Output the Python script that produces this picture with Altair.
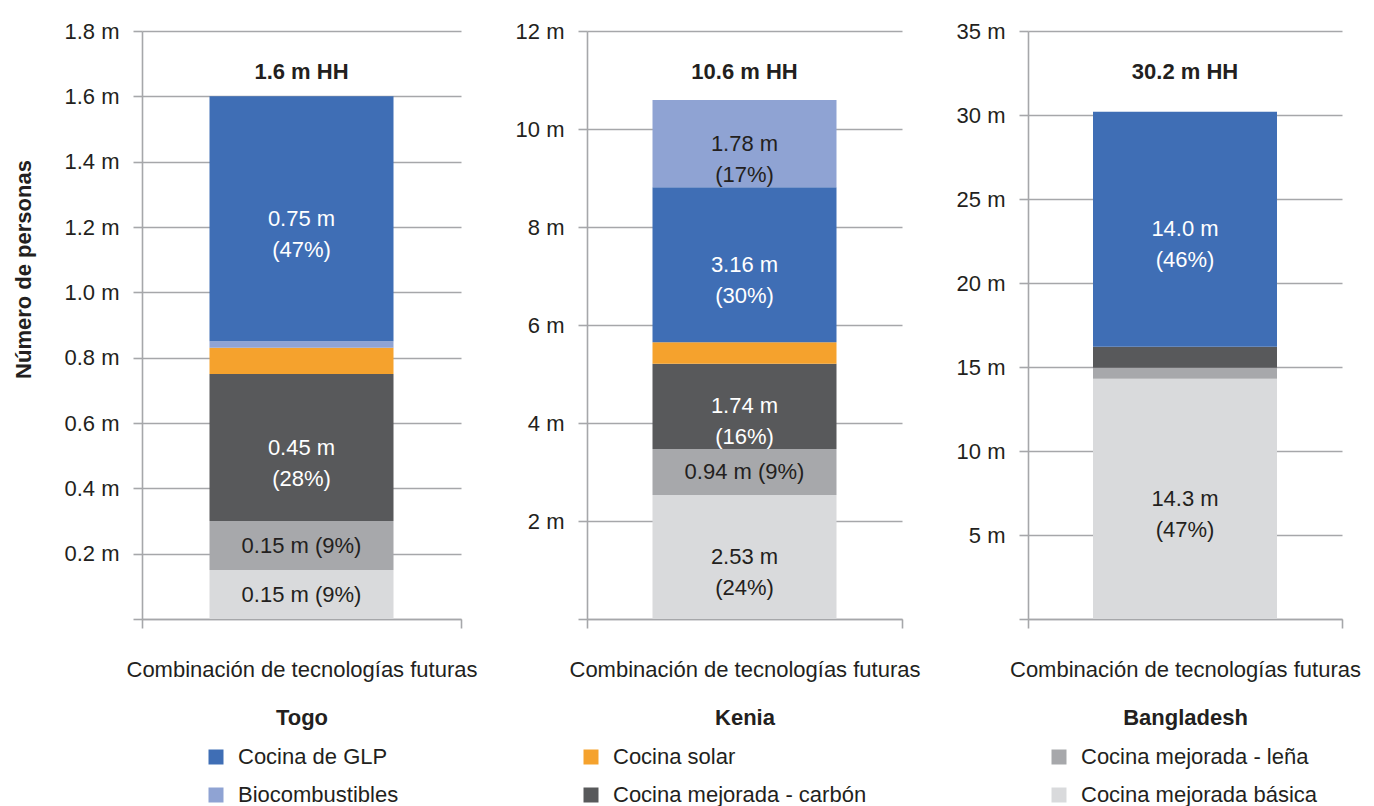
import altair as alt
import pandas as pd

countries = ["Togo", "Kenia", "Bangladesh"]
# stack order per country, bottom to top
togo_categories = [
    "Cocina mejorada básica", "Cocina mejorada - leña", "Cocina mejorada - carbón",
    "Cocina solar", "Biocombustibles", "Cocina de GLP",
]
togo_values = [0.15, 0.15, 0.45, 0.08, 0.02, 0.75]
togo_labels = ["0.15 m (9%)", "0.15 m (9%)", "0.45 m\n(28%)", "", "", "0.75 m\n(47%)"]

kenia_categories = [
    "Cocina mejorada básica", "Cocina mejorada - leña", "Cocina mejorada - carbón",
    "Cocina solar", "Cocina de GLP", "Biocombustibles",
]
kenia_values = [2.53, 0.94, 1.74, 0.44, 3.16, 1.78]
kenia_labels = ["2.53 m\n(24%)", "0.94 m (9%)", "1.74 m\n(16%)", "", "3.16 m\n(30%)", "1.78 m\n(17%)"]

bangladesh_categories = [
    "Cocina mejorada básica", "Cocina mejorada - leña", "Cocina mejorada - carbón",
    "Cocina de GLP",
]
bangladesh_values = [14.3, 0.65, 1.25, 14.0]
bangladesh_labels = ["14.3 m\n(47%)", "", "", "14.0 m\n(46%)"]

totals_text = ["1.6 m HH", "10.6 m HH", "30.2 m HH"]
y_max = [1.8, 12, 35]
y_step = [0.2, 2, 5]
y_format = [".1f", "d", "d"]

x_label = "Combinación de tecnologías futuras"
y_title = "Número de personas"

# legend entries (filled column by column: 3 columns x 2 rows)
legend_order = [
    "Cocina de GLP", "Biocombustibles",
    "Cocina solar", "Cocina mejorada - carbón",
    "Cocina mejorada - leña", "Cocina mejorada básica",
]
legend_colors = ["#3F6EB5", "#8FA3D3", "#F5A22D", "#58595B", "#A7A8AB", "#D9DADC"]

all_categories = [togo_categories, kenia_categories, bangladesh_categories]
all_values = [togo_values, kenia_values, bangladesh_values]
all_labels = [togo_labels, kenia_labels, bangladesh_labels]
panel_widths = [319, 315, 314]

FONT = "Liberation Sans"
TXT = "#231F20"
GRID = "#A6A7AA"
FS = 22


def panel(i):
    cats = all_categories[i]
    df = pd.DataFrame({
        "cat": cats,
        "value": all_values[i],
        "label": all_labels[i],
        "rank": list(range(len(cats))),
        "x": [x_label] * len(cats),
    })
    n = int(round(y_max[i] / y_step[i]))
    ticks = [round(k * y_step[i], 2) for k in range(n + 1)]
    yscale = alt.Scale(domain=[0, y_max[i]], nice=False, zero=True)
    xscale = alt.Scale(paddingInner=0, paddingOuter=0)
    label_expr = f"datum.value == 0 ? '' : format(datum.value, '{y_format[i]}') + ' m'"

    y_axis_kwargs = dict(
        values=ticks, labelExpr=label_expr, grid=True, gridColor=GRID, gridWidth=1.6,
        domainColor=GRID, domainWidth=1.6, tickColor=GRID, tickWidth=1.6, tickSize=9,
        labelPadding=14, labelFontSize=FS, labelColor=TXT, labelFont=FONT,
    )
    if i == 0:
        y_axis = alt.Axis(title=y_title, titleFontSize=FS, titleFont=FONT, titleFontWeight="bold",
                          titleColor=TXT, titlePadding=28, titleY=238, **y_axis_kwargs)
    else:
        y_axis = alt.Axis(title=None, **y_axis_kwargs)

    x_axis = alt.Axis(
        title=countries[i], titleFontSize=FS, titleFont=FONT, titleFontWeight="bold", titleColor=TXT,
        titlePadding=27, labelAngle=0, labelPadding=31, labelFontSize=FS, labelFont=FONT,
        labelColor=TXT, labelLimit=500, tickBand="extent", tickSize=9, tickColor=GRID, tickWidth=1.6,
        domainColor=GRID, domainWidth=1.6,
    )

    bars = alt.Chart(df).mark_bar(width=184).encode(
        x=alt.X("x:N", scale=xscale, axis=x_axis),
        y=alt.Y("value:Q", stack="zero", scale=yscale, axis=y_axis),
        color=alt.Color("cat:N", scale=alt.Scale(domain=legend_order, range=legend_colors),
                        legend=alt.Legend(title=None)),
        order=alt.Order("rank:Q"),
    )

    texts = alt.Chart(df).transform_stack(
        stack="value", groupby=["x"], sort=[alt.SortField("rank")], as_=["y0", "y1"]
    ).transform_calculate(
        mid="(datum.y0 + datum.y1) / 2"
    ).mark_text(font=FONT, fontSize=FS, lineBreak="\n", lineHeight=31, baseline="middle", align="center").encode(
        x=alt.X("x:N", scale=xscale),
        y=alt.Y("mid:Q", scale=yscale),
        text="label:N",
        color=alt.condition(
            "datum.cat == 'Cocina de GLP' || datum.cat == 'Cocina mejorada - carbón'",
            alt.value("white"), alt.value(TXT)),
    )

    tdf = pd.DataFrame({"x": [x_label], "top": [y_max[i]], "t": [totals_text[i]]})
    total = alt.Chart(tdf).mark_text(font=FONT, fontSize=FS, fontWeight="bold", color=TXT,
                                     dy=41, baseline="middle", align="center").encode(
        x=alt.X("x:N", scale=xscale),
        y=alt.Y("top:Q", scale=yscale),
        text="t:N",
    )
    return alt.layer(bars, texts, total).properties(width=panel_widths[i], height=588)


chart = alt.hconcat(panel(0), panel(1), panel(2), spacing=126, bounds="flush").resolve_scale(
    y="independent", color="shared"
).configure_view(stroke=None).configure_legend(
    orient="none", legendX=63, legendY=715, columns=3, columnPadding=181, rowPadding=16,
    symbolType="square", symbolSize=225, symbolStrokeWidth=0, symbolOffset=0,
    labelFontSize=FS, labelFont=FONT, labelColor=TXT, labelLimit=500, labelOffset=11,
).properties(padding={"left": 4, "top": 12, "right": 5, "bottom": 0})

chart.save("out.html", embed_options={"renderer": "svg", "actions": False})
